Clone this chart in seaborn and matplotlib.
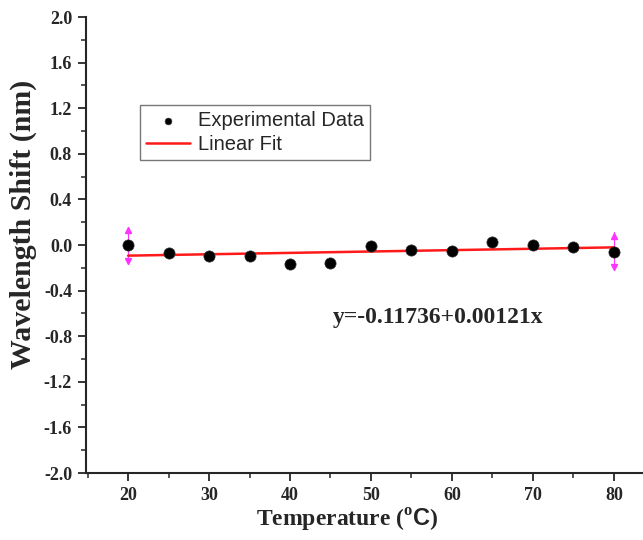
import numpy as np
import pandas as pd
import matplotlib
matplotlib.use("Agg")
import matplotlib.pyplot as plt
from matplotlib.ticker import MultipleLocator, FuncFormatter
import seaborn as sns

temperature = [20, 25, 30, 35, 40, 45, 50, 55, 60, 65, 70, 75, 80]
shift = [0.00, -0.07, -0.10, -0.10, -0.17, -0.16, -0.01, -0.04, -0.05, 0.03, 0.00, -0.02, -0.06]
fit_intercept = -0.11736
fit_slope = 0.00121
arrow_x = [20, 80]
arrow_up = [0.16, 0.11]
arrow_down = [-0.17, -0.22]

sns.set_style("ticks")
plt.rcParams['font.family'] = ['Liberation Serif', 'DejaVu Serif']
plt.rcParams['mathtext.fontset'] = 'custom'
plt.rcParams['mathtext.rm'] = 'Liberation Serif:bold'
plt.rcParams['mathtext.sf'] = 'Liberation Sans:bold'

fig = plt.figure(figsize=(6.43, 5.40), dpi=100)
ax = fig.add_axes([0.1337, 0.124, 0.8663, 0.8445])

df = pd.DataFrame({"T": temperature, "S": shift})
fit_x = [temperature[0], temperature[-1]]
fit_df = pd.DataFrame({"T": fit_x, "S": [fit_intercept + fit_slope * t for t in fit_x]})

for xa, yu, yd in zip(arrow_x, arrow_up, arrow_down):
    ax.plot([xa, xa], [yd, yu], color="#ff33ff", lw=0.8, zorder=1)
    ax.plot([xa], [yu - 0.03], marker="^", color="#ff33ff", ms=5, zorder=1)
    ax.plot([xa], [yd + 0.03], marker="v", color="#ff33ff", ms=5, zorder=1)

sns.lineplot(data=fit_df, x="T", y="S", ax=ax, color="#ff1a1a", lw=1.8, label="Linear Fit", zorder=2)
sns.scatterplot(data=df, x="T", y="S", ax=ax, color="black", s=65, edgecolor="#333333",
                linewidth=0.5, label="Experimental Data", zorder=3)

ax.set_xlim(14.8, 83.6)
ax.set_ylim(-2.0, 2.0)
ax.xaxis.set_major_locator(MultipleLocator(10))
ax.xaxis.set_minor_locator(MultipleLocator(5))
ax.yaxis.set_major_locator(MultipleLocator(0.4))
ax.yaxis.set_minor_locator(MultipleLocator(0.2))
ax.yaxis.set_major_formatter(FuncFormatter(lambda v, p: f"{(round(v, 1) + 0.0):.1f}"))
ax.tick_params(axis="both", which="major", length=6, width=1.3, direction="out",
               labelsize=13, pad=4)
ax.tick_params(axis="both", which="minor", length=3.5, width=1.1, direction="out")
for lab in ax.get_xticklabels() + ax.get_yticklabels():
    lab.set_fontweight("bold")

sns.despine(ax=ax)
ax.spines["left"].set_linewidth(1.5)
ax.spines["bottom"].set_linewidth(1.5)

ax.set_xlabel("Temperature ($^{\\mathrm{o}}\\mathsf{C}$)", fontsize=17, fontweight="bold")
ax.xaxis.set_label_coords(0.47, -0.075)
ax.set_ylabel("Wavelength Shift (nm)", fontsize=21.5, fontweight="bold")
ax.yaxis.set_label_coords(-0.088, 0.546)

ax.text(333 / 643, 1 - 318 / 540, "y=-0.11736+0.00121x", transform=fig.transFigure,
        fontsize=17, fontweight="bold", va="center", ha="left")

handles, labels = ax.get_legend_handles_labels()
order = [labels.index("Experimental Data"), labels.index("Linear Fit")]
leg = ax.legend([handles[i] for i in order], [labels[i] for i in order],
                loc="upper left", bbox_to_anchor=(140 / 643, 1 - 105 / 540),
                bbox_transform=fig.transFigure, frameon=True, fancybox=False,
                prop={"family": "Liberation Sans", "size": 14.5}, handlelength=2.2,
                borderpad=0.3, labelspacing=0.25, handletextpad=0.4, markerscale=0.6,
                borderaxespad=0)
leg.get_frame().set_edgecolor("#555555")
leg.get_frame().set_linewidth(1.0)

fig.savefig("out.png", dpi=100)
